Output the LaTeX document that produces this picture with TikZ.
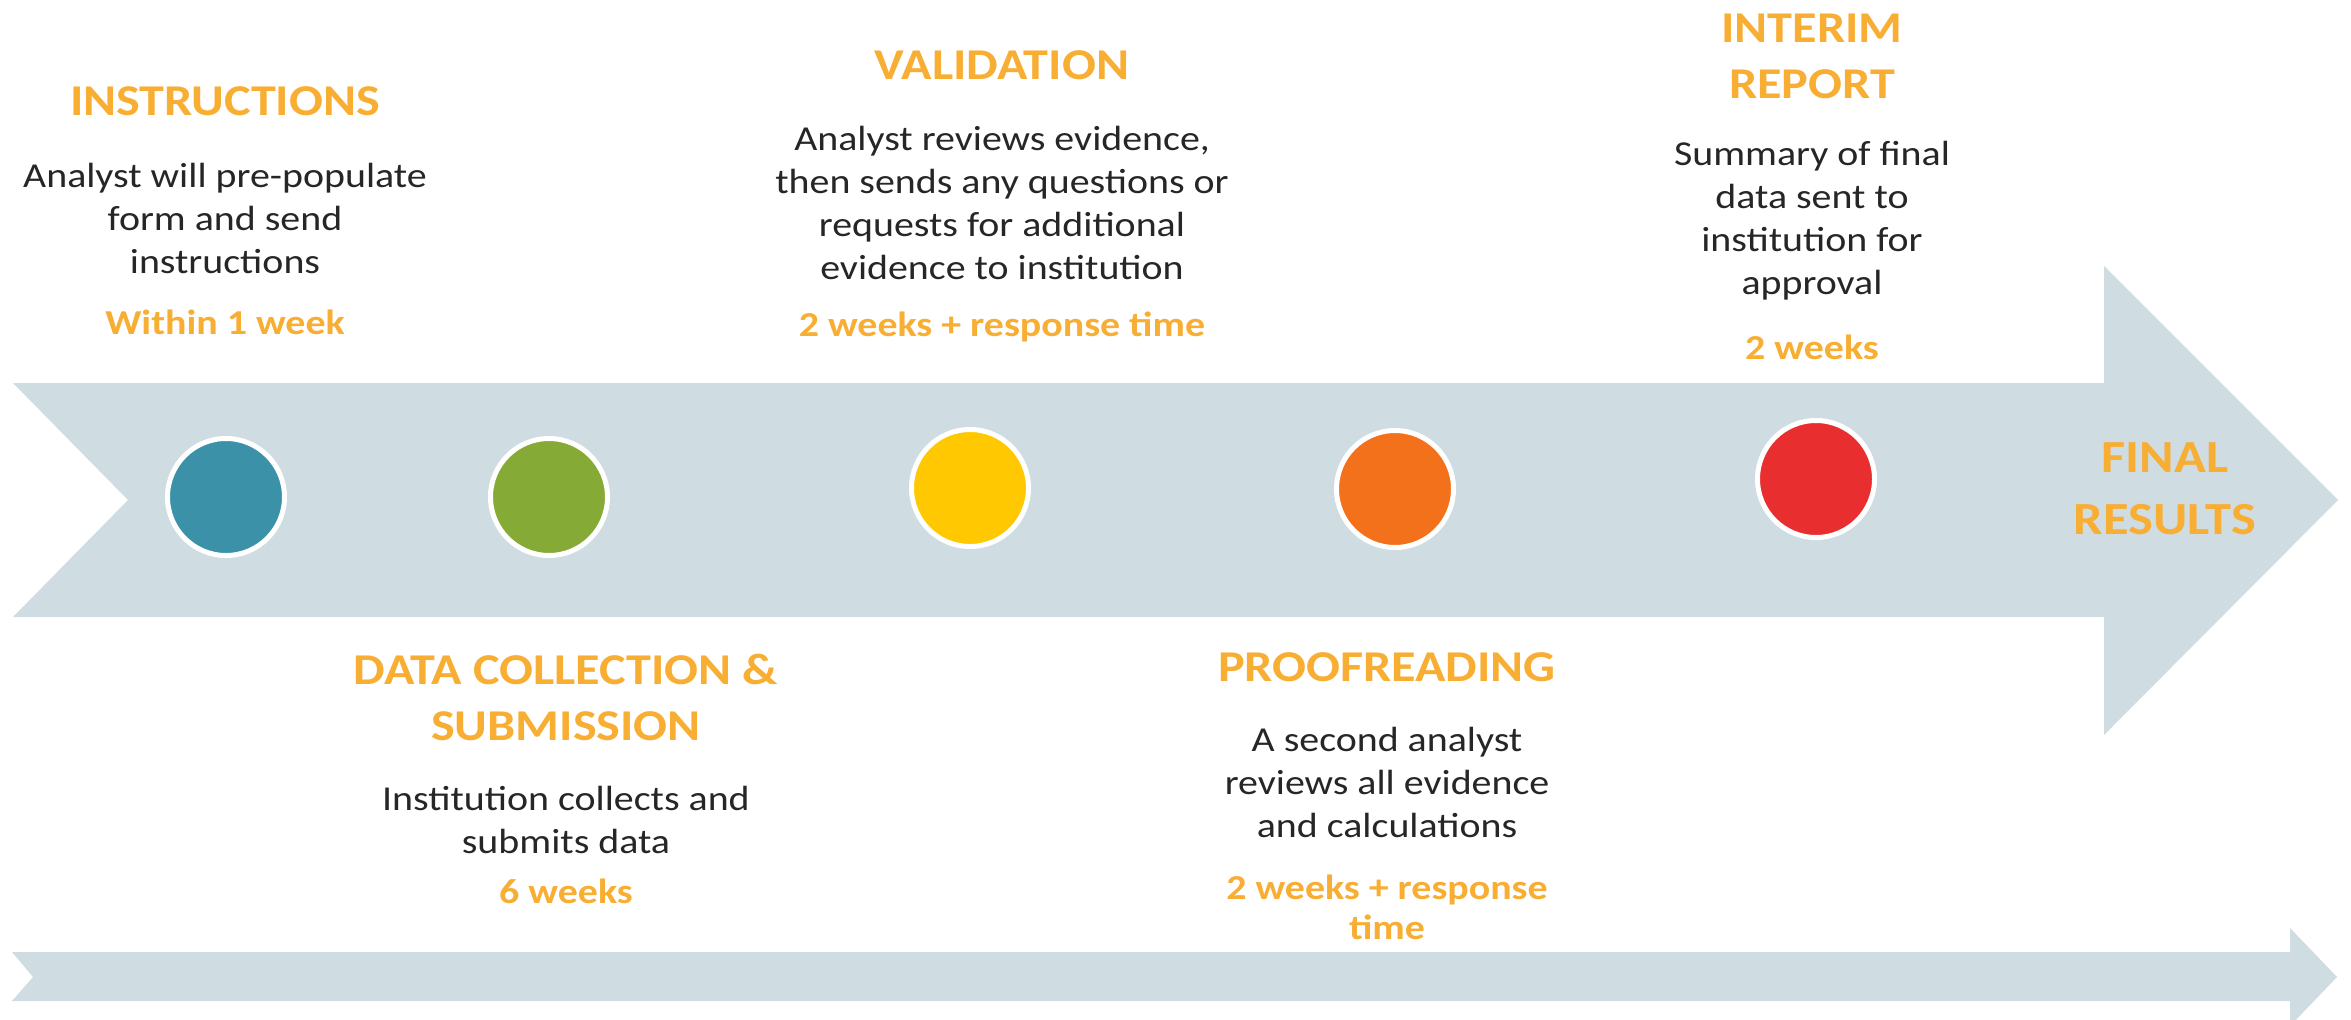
\documentclass[tikz,border=0pt]{standalone}
\usepackage{fontspec}
\setmainfont[FakeStretch=1.14]{Carlito}
\usetikzlibrary{positioning}
\definecolor{band}{HTML}{CFDCE2}
\definecolor{head_orange}{HTML}{F8AD33}
\definecolor{body_dark}{HTML}{262626}
\definecolor{c_teal}{HTML}{3A91A8}
\definecolor{c_green}{HTML}{86AA36}
\definecolor{c_yellow}{HTML}{FFC800}
\definecolor{c_orange}{HTML}{F4711C}
\definecolor{c_red}{HTML}{E92E2F}
\tikzstyle{stage_title} = [
    text=head_orange, font=\fontsize{22}{28}\selectfont\bfseries,
    align=center, inner sep=0pt
]
\tikzstyle{stage_text} = [
    text=body_dark, font=\fontsize{17.5}{21.5}\selectfont,
    align=center, inner sep=0pt
]
\tikzstyle{stage_time} = [
    text=head_orange, font=\fontsize{17.5}{20}\selectfont\bfseries,
    align=center, inner sep=0pt
]
\tikzstyle{milestone} = [
    circle, minimum size=58.5pt, inner sep=0pt, draw=white, line width=2.5pt
]

\begin{document}
\begin{tikzpicture}[x=0.5pt, y=0.5pt]
\useasboundingbox (0,0) rectangle (2351,-1019);
\clip (0,0) rectangle (2351,-1019);

% Arrows
\fill[band] (13,-383) -- (2104,-383) -- (2104,-266) -- (2338,-500) -- (2104,-735)
    -- (2104,-617) -- (13,-617) -- (128,-500) -- cycle;
\fill[band] (12,-952) -- (2290,-952) -- (2290,-928) -- (2337,-977) -- (2290,-1026)
    -- (2290,-1001) -- (12,-1001) -- (33,-977) -- cycle;

% Milestones
\node (M_1) [milestone, fill=c_teal] at (226,-497) {};
\node (M_2) [milestone, fill=c_green] at (549,-497) {};
\node (M_3) [milestone, fill=c_yellow] at (970,-488) {};
\node (M_4) [milestone, fill=c_orange] at (1395,-489) {};
\node (M_5) [milestone, fill=c_red] at (1816,-479) {};

% Stages above the arrow
\node (Instr_title) [stage_title] at (225,-101) {INSTRUCTIONS};
\node (Instr_text) [stage_text, below of=Instr_title, node distance=58.5pt] {Analyst will pre-populate\\form and send\\instructions};
\node (Instr_time) [stage_time, below of=Instr_text, node distance=52pt] {Within 1 week};

\node (Valid_title) [stage_title] at (1002,-65) {VALIDATION};
\node (Valid_text) [stage_text, below of=Valid_title, node distance=69pt] {Analyst reviews evidence,\\then sends any questions or\\requests for additional\\evidence to institution};
\node (Valid_time) [stage_time, below of=Valid_text, node distance=62pt] {2 weeks + response time};

\node (Report_title) [stage_title] at (1812,-56.5) {INTERIM\\REPORT};
\node (Report_text) [stage_text, below of=Report_title, node distance=82pt] {Summary of final\\data sent to\\institution for\\approval};
\node (Report_time) [stage_time, below of=Report_text, node distance=63.5pt] {2 weeks};

% Stages below the arrow
\node (Data_title) [stage_title] at (566,-697.5) {DATA COLLECTION \&\\SUBMISSION};
\node (Data_text) [stage_text, below of=Data_title, node distance=61pt] {Institution collects and\\submits data};
\node (Data_time) [stage_time, below of=Data_text, node distance=36pt] {6 weeks};

\node (Proof_title) [stage_title] at (1387,-667) {PROOFREADING};
\node (Proof_text) [stage_text, below of=Proof_title, node distance=57.5pt] {A second analyst\\reviews all evidence\\and calculations};
\node (Proof_time) [stage_time, below of=Proof_text, node distance=62.5pt] {2 weeks + response\\time};

% End
\node (Final) [stage_title, font=\fontsize{23}{31}\selectfont\bfseries] at (2165,-489) {FINAL\\RESULTS};

\end{tikzpicture}
\end{document}
